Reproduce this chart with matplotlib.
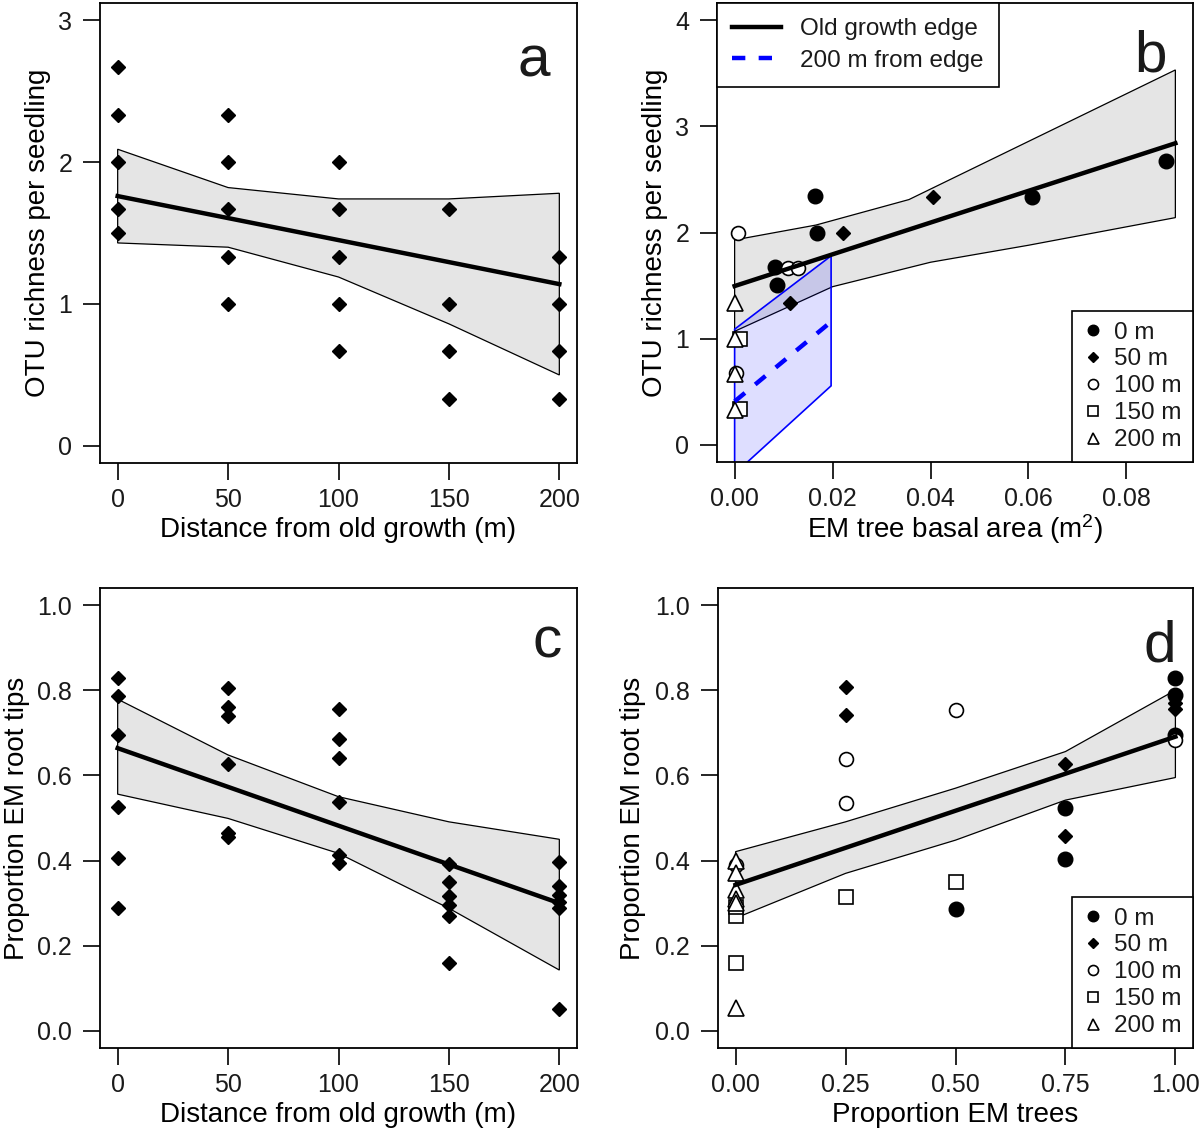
import matplotlib.pyplot as plt

plt.rcParams['font.family'] = ['Liberation Sans', 'DejaVu Sans']
plt.rcParams['mathtext.fontset'] = 'custom'
plt.rcParams['mathtext.rm'] = 'Liberation Sans'
plt.rcParams['mathtext.default'] = 'regular'
plt.rcParams['text.color'] = '#1a1a1a'

dist_ticks = [0, 50, 100, 150, 200]

# panel a: OTU richness vs distance
a_x = [0]*5 + [50]*5 + [100]*5 + [150]*4 + [200]*4
a_y = [2.67, 2.33, 2.0, 1.67, 1.5,
       2.33, 2.0, 1.67, 1.33, 1.0,
       2.0, 1.67, 1.33, 1.0, 0.67,
       1.67, 1.0, 0.67, 0.33,
       1.33, 1.0, 0.67, 0.33]
a_fit_x = [0, 200]
a_fit_y = [1.76, 1.14]
a_band_x = [0, 50, 100, 150, 200]
a_up_y = [2.09, 1.82, 1.74, 1.74, 1.78]
a_lo_y = [1.43, 1.40, 1.19, 0.86, 0.50]

# panel b: OTU richness vs EM basal area, by distance class
b0_x = [0.0164, 0.0169, 0.0082, 0.0087, 0.0607, 0.088]
b0_y = [2.34, 2.0, 1.68, 1.51, 2.335, 2.67]
b50_x = [0.0406, 0.0221, 0.0114, 0.0006]
b50_y = [2.33, 2.0, 1.34, 2.0]
b100_x = [0.0110, 0.0130, 0.0006, 0.0003]
b100_y = [1.67, 1.67, 2.0, 0.68]
b150_x = [0.0010, 0.0010]
b150_y = [1.0, 0.34]
b200_x = [0.0, 0.0, 0.0, 0.0]
b200_y = [1.34, 1.0, 0.67, 0.33]
b_fit_x = [0, 0.09]
b_fit_y = [1.496, 2.84]
b_up_x = [0, 0.0166, 0.0356, 0.09]
b_up_y = [1.93, 2.07, 2.31, 3.53]
b_lo_x = [0, 0.02, 0.04, 0.06, 0.09]
b_lo_y = [1.07, 1.49, 1.72, 1.88, 2.14]
b200_fit_x = [0, 0.0197]
b200_fit_y = [0.41, 1.16]
b200_up_y = [1.09, 1.78]
b200_lo_y = [-0.27, 0.557]

# panel c: proportion EM root tips vs distance
c_x = [0]*6 + [50]*6 + [100]*6 + [150]*6 + [200]*6
c_y = [0.829, 0.787, 0.695, 0.525, 0.405, 0.289,
       0.806, 0.761, 0.739, 0.626, 0.465, 0.455,
       0.756, 0.685, 0.640, 0.538, 0.413, 0.395,
       0.392, 0.349, 0.318, 0.296, 0.270, 0.160,
       0.396, 0.340, 0.319, 0.303, 0.289, 0.051]
c_fit_x = [0, 200]
c_fit_y = [0.664, 0.300]
c_band_x = [0, 50, 100, 150, 200]
c_up_y = [0.779, 0.648, 0.550, 0.491, 0.450]
c_lo_y = [0.556, 0.499, 0.417, 0.288, 0.143]

# panel d: proportion EM root tips vs proportion EM trees
d0_x = [0.5, 0.75, 0.75, 1, 1, 1]
d0_y = [0.286, 0.523, 0.403, 0.828, 0.789, 0.695]
d50_x = [0.25, 0.25, 0.75, 0.75, 1, 1]
d50_y = [0.807, 0.741, 0.627, 0.458, 0.755, 0.77]
d100_x = [0.25, 0.25, 0.5, 1, 0]
d100_y = [0.638, 0.536, 0.753, 0.683, 0.39]
d150_x = [0.25, 0.5, 0, 0, 0]
d150_y = [0.315, 0.349, 0.159, 0.27, 0.29]
d200_x = [0, 0, 0, 0, 0, 0]
d200_y = [0.053, 0.40, 0.37, 0.33, 0.31, 0.30]
d_fit_x = [0, 1]
d_fit_y = [0.343, 0.691]
d_band_x = [0, 0.25, 0.5, 0.75, 1]
d_up_y = [0.421, 0.491, 0.570, 0.656, 0.80]
d_lo_y = [0.265, 0.370, 0.448, 0.542, 0.595]

class_labels = ['0 m', '50 m', '100 m', '150 m', '200 m']

FS_TICK = 18
FS_LAB = 20
FS_LEG = 17.5
W, H = 1200, 1134
fig = plt.figure(figsize=(W / 100, H / 100), dpi=100)

def px_axes(l, t, r, b):
    return fig.add_axes([l / W, 1 - b / H, (r - l) / W, (b - t) / H])

ax_a = px_axes(100, 3, 577, 463)
ax_b = px_axes(717, 3, 1193, 462)
ax_c = px_axes(100, 588, 577, 1048)
ax_d = px_axes(718, 588, 1193, 1048)


def style(ax, xlim, ylim, xticks, yticks, xfmt, yfmt):
    lo, hi = xlim
    ax.set_xlim(lo - 0.04 * (hi - lo), hi + 0.04 * (hi - lo))
    lo, hi = ylim
    ax.set_ylim(lo - 0.04 * (hi - lo), hi + 0.04 * (hi - lo))
    ax.set_xticks(xticks)
    ax.set_xticklabels([xfmt.format(v) for v in xticks])
    ax.set_yticks(yticks)
    ax.set_yticklabels([yfmt.format(v) for v in yticks])
    ax.tick_params(direction='out', length=12, width=1.2, labelsize=FS_TICK,
                   colors='black', labelcolor='#1a1a1a')
    ax.tick_params(axis='x', pad=6)
    ax.tick_params(axis='y', pad=8)
    for s in ax.spines.values():
        s.set_linewidth(1.3)
        s.set_color('black')


def band(ax, x, lo, up, fc='#e5e5e5', ec='black', alpha=1.0, lw=0.9):
    xs = list(x) + list(x)[::-1]
    ys = list(up) + list(lo)[::-1]
    ax.fill(xs, ys, facecolor=fc, edgecolor='none', alpha=alpha, zorder=1)
    ax.fill(xs, ys, facecolor='none', edgecolor=ec, lw=lw, zorder=1.5)


dia = dict(marker='D', ms=7.5, color='black', ls='none', zorder=3)
mk = {
    '0 m': dict(marker='o', ms=10.5, mfc='black', mec='black'),
    '50 m': dict(marker='D', ms=7.5, mfc='black', mec='black'),
    '100 m': dict(marker='o', ms=10, mfc='white', mec='black', mew=1.2),
    '150 m': dict(marker='s', ms=10, mfc='white', mec='black', mew=1.2),
    '200 m': dict(marker='^', ms=11, mfc='white', mec='black', mew=1.2),
}


def letter(ax, s, x, y):
    ax.text(x, y, s, transform=ax.transAxes, fontsize=42, ha='center',
            va='baseline', zorder=5)


def class_legend(ax, handles):
    leg = ax.legend(handles, class_labels, loc='lower right', fontsize=FS_LEG,
                    frameon=True, fancybox=False, framealpha=1,
                    edgecolor='black', borderaxespad=0, borderpad=0.45,
                    handlelength=0.8, handletextpad=0.5, labelspacing=0.2,
                    markerscale=0.72)
    leg.get_frame().set_linewidth(1.2)
    leg.set_zorder(6)
    return leg


# ---- a
band(ax_a, a_band_x, a_lo_y, a_up_y)
ax_a.plot(a_x, a_y, **dia)
ax_a.plot(a_fit_x, a_fit_y, color='black', lw=3.2, zorder=4)
style(ax_a, (0, 200), (0, 3), dist_ticks, [0, 1, 2, 3], '{:d}', '{:d}')
ax_a.set_ylabel('OTU richness per seedling', fontsize=FS_LAB)
ax_a.set_xlabel('Distance from old growth (m)', fontsize=FS_LAB)
letter(ax_a, 'a', 0.91, 0.84)

# ---- b
xs = b_up_x + b_lo_x[::-1]
ys = b_up_y + b_lo_y[::-1]
ax_b.fill(xs, ys, facecolor='#e5e5e5', edgecolor='black', lw=0.9, zorder=1)
hs = []
for lab, bx, by in zip(class_labels, [b0_x, b50_x, b100_x, b150_x, b200_x],
                       [b0_y, b50_y, b100_y, b150_y, b200_y]):
    h, = ax_b.plot(bx, by, ls='none', zorder=3, **mk[lab])
    hs.append(h)
band(ax_b, b200_fit_x, b200_lo_y, b200_up_y, fc='blue', ec='blue',
     alpha=0.13, lw=1.2)
l1, = ax_b.plot(b_fit_x, b_fit_y, color='black', lw=3.2, zorder=4)
l2, = ax_b.plot(b200_fit_x, b200_fit_y, color='blue', lw=3.2, zorder=4,
                dashes=(3, 3))
style(ax_b, (0, 0.09), (0, 4), [0, 0.02, 0.04, 0.06, 0.08], [0, 1, 2, 3, 4],
      '{:.2f}', '{:d}')
ax_b.set_ylabel('OTU richness per seedling', fontsize=FS_LAB)
ax_b.set_xlabel('EM tree basal area (m$^2$)', fontsize=FS_LAB)
letter(ax_b, 'b', 0.91, 0.85)
leg1 = ax_b.legend([l1, l2], ['Old growth edge', '200 m from edge'],
                   loc='upper left', fontsize=FS_LEG, frameon=True,
                   fancybox=False, framealpha=1, edgecolor='black',
                   borderaxespad=0, borderpad=0.62, handlelength=2.0,
                   handletextpad=0.8, labelspacing=0.4)
leg1.get_frame().set_linewidth(1.2)
ax_b.add_artist(leg1)
class_legend(ax_b, hs)

# ---- c
band(ax_c, c_band_x, c_lo_y, c_up_y)
ax_c.plot(c_x, c_y, **dia)
ax_c.plot(c_fit_x, c_fit_y, color='black', lw=3.2, zorder=4)
style(ax_c, (0, 200), (0, 1), dist_ticks, [0, 0.2, 0.4, 0.6, 0.8, 1.0],
      '{:d}', '{:.1f}')
ax_c.set_ylabel('Proportion EM root tips', fontsize=FS_LAB)
ax_c.set_xlabel('Distance from old growth (m)', fontsize=FS_LAB)
letter(ax_c, 'c', 0.937, 0.85)

# ---- d
band(ax_d, d_band_x, d_lo_y, d_up_y)
hs = []
for lab, dx, dy in zip(class_labels, [d0_x, d50_x, d100_x, d150_x, d200_x],
                       [d0_y, d50_y, d100_y, d150_y, d200_y]):
    h, = ax_d.plot(dx, dy, ls='none', zorder=3, **mk[lab])
    hs.append(h)
ax_d.plot(d_fit_x, d_fit_y, color='black', lw=3.2, zorder=4)
style(ax_d, (0, 1), (0, 1), [0, 0.25, 0.5, 0.75, 1.0],
      [0, 0.2, 0.4, 0.6, 0.8, 1.0], '{:.2f}', '{:.1f}')
ax_d.set_ylabel('Proportion EM root tips', fontsize=FS_LAB)
ax_d.set_xlabel('Proportion EM trees', fontsize=FS_LAB)
letter(ax_d, 'd', 0.93, 0.84)
class_legend(ax_d, hs)

for ax, yx in [(ax_a, -0.13), (ax_b, -0.13), (ax_c, -0.174), (ax_d, -0.178)]:
    ax.yaxis.set_label_coords(yx, 0.5)
    ax.yaxis.label.set_va('center')
    ax.xaxis.set_label_coords(0.5, -0.146)
    ax.xaxis.label.set_va('center')

fig.savefig('out.png', dpi=100)
